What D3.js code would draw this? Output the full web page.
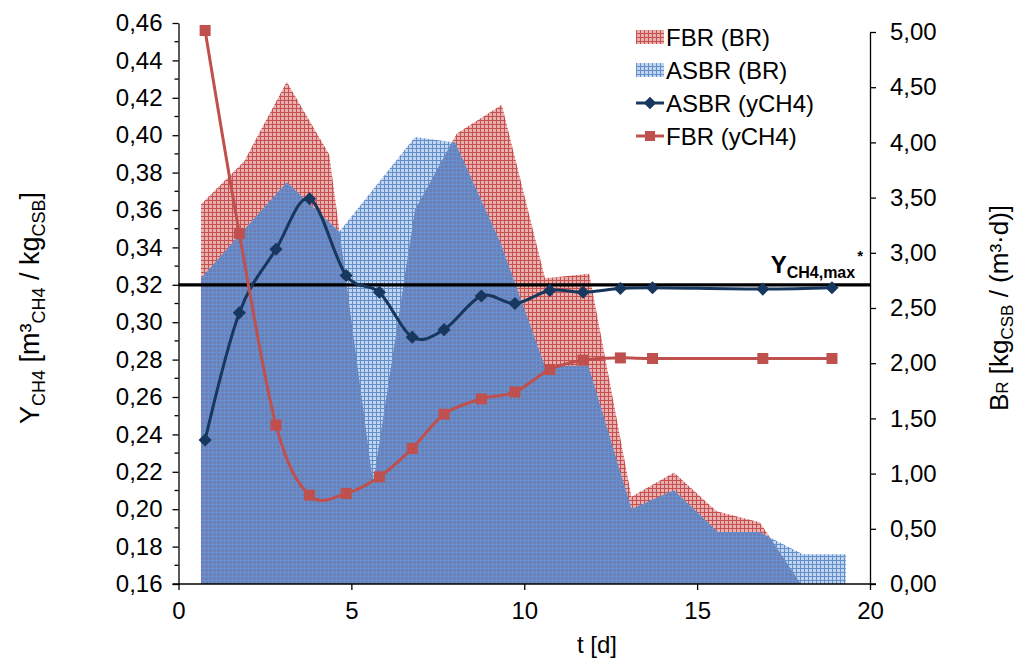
<!DOCTYPE html>
<html lang="de">
<head>
<meta charset="UTF-8" />
<title>Y_CH4 und B_R über t</title>
<script src="https://d3js.org/d3.v7.min.js"></script>
<style>
  body { margin: 0; background: #fff; font-family: "Liberation Sans", Arial, sans-serif; }
  svg { display: block; }
  .axis text { font-size: 24px; fill: #000; font-family: "Liberation Sans", Arial, sans-serif; }
  .axis path, .axis line { stroke: #000; stroke-width: 1.3px; }
</style>
</head>
<body>
<svg id="chart" width="1019" height="659"></svg>
<script>
  // raumbelastung B_R (area series, right axis)
  const tFbrBR = [0.65, 1.9, 3.13, 4.36, 5.63, 6.84, 8.05, 9.35, 10.6, 11.88, 13.1, 14.33, 15.56, 16.81, 18.0];
  const fbrBR = [3.44, 3.83, 4.55, 3.89, 0.91, 3.39, 4.08, 4.34, 2.77, 2.81, 0.79, 1.01, 0.66, 0.56, 0.0];
  const tAsbrBR = [0.65, 3.13, 4.65, 6.84, 8.0, 9.3, 10.6, 11.85, 13.1, 14.33, 15.6, 16.8, 18.06, 19.3];
  const asbrBR = [2.77, 3.64, 3.19, 4.05, 4.0, 3.1, 1.97, 1.98, 0.68, 0.85, 0.47, 0.47, 0.27, 0.27];

  // methanausbeute y_CH4 (line series, left axis)
  const tYield = [0.77, 1.76, 2.82, 3.79, 4.85, 5.81, 6.76, 7.68, 8.76, 9.73, 10.74, 11.7, 12.78, 13.71, 16.9, 18.9];
  const asbrY = [0.237, 0.305, 0.339, 0.366, 0.325, 0.316, 0.292, 0.296, 0.314, 0.310, 0.317, 0.316, 0.318, 0.3184, 0.3177, 0.3184];
  const fbrY = [0.456, 0.3475, 0.245, 0.2075, 0.2084, 0.2173, 0.2325, 0.2508, 0.259, 0.2627, 0.2747, 0.2797, 0.2809, 0.2806, 0.2806, 0.2806];

  const yMax = 0.32;
  const xTicks = [0, 5, 10, 15, 20];
  const yLeftTicks = d3.range(0.16, 0.4601, 0.02);
  const yLeftMinor = d3.range(0.17, 0.46, 0.02);
  const yRightTicks = d3.range(0, 5.001, 0.5);
  const legendItems = ["FBR (BR)", "ASBR (BR)", "ASBR (yCH4)", "FBR (yCH4)"];

  const red = "#c0504d", navy = "#17375e";

  const svg = d3.select("#chart");
  const x = d3.scaleLinear().domain([0, 20]).range([178.5, 870]);
  const yL = d3.scaleLinear().domain([0.16, 0.46]).range([584, 23]);
  const yR = d3.scaleLinear().domain([0, 5]).range([584, 32]);

  const comma = f => v => d3.format(f)(v).replace(".", ",");

  // fill patterns
  const defs = svg.append("defs");
  function grid(id, bg, line) {
    const p = defs.append("pattern").attr("id", id).attr("patternUnits", "userSpaceOnUse")
      .attr("width", 4).attr("height", 4);
    p.append("rect").attr("width", 4).attr("height", 4).attr("fill", bg);
    p.append("rect").attr("width", 4).attr("height", 1).attr("fill", line);
    p.append("rect").attr("width", 1).attr("height", 4).attr("fill", line);
  }
  grid("pRed", "#e9b0af", "#c4514f");
  grid("pBlue", "#c3d5ee", "#6290cc");
  grid("pMix", "#6e7fb3", "#6592d4");

  const fbrData = tFbrBR.map((t, i) => ({ t, v: fbrBR[i] }));
  const asbrData = tAsbrBR.map((t, i) => ({ t, v: asbrBR[i] }));
  const area = d3.area().x(d => x(d.t)).y0(yR(0)).y1(d => yR(d.v));

  svg.append("path").attr("d", area(fbrData)).attr("fill", "url(#pRed)");
  defs.append("clipPath").attr("id", "clipRed").append("path").attr("d", area(fbrData));
  svg.append("path").attr("d", area(asbrData)).attr("fill", "url(#pBlue)");
  svg.append("path").attr("d", area(asbrData)).attr("fill", "url(#pMix)").attr("clip-path", "url(#clipRed)");

  // axes
  svg.append("g").attr("class", "axis").attr("transform", `translate(0,${yL(0.16)})`)
    .call(d3.axisBottom(x).tickValues(xTicks).tickSize(6).tickPadding(12).tickSizeOuter(0))
    .call(g => g.select(".domain").attr("d", `M${x(0) - 6},0H${x(20) + 6}`));

  svg.append("g").attr("class", "axis").attr("transform", `translate(${x(0)},0)`)
    .call(d3.axisLeft(yL).tickValues(yLeftTicks).tickFormat(comma(".2f")).tickSize(6).tickPadding(10).tickSizeOuter(0))
    .call(g => g.selectAll(".minor").data(yLeftMinor).join("line").attr("class", "minor")
      .attr("x1", -4).attr("x2", 0).attr("y1", d => yL(d)).attr("y2", d => yL(d)).attr("stroke", "#000").attr("stroke-width", 1.3));

  svg.append("g").attr("class", "axis").attr("transform", `translate(${x(20)},0)`)
    .call(d3.axisRight(yR).tickValues(yRightTicks).tickFormat(comma(".2f")).tickSize(6).tickPadding(14).tickSizeOuter(0));

  // Y_CH4,max reference line
  svg.append("line").attr("x1", x(0)).attr("x2", x(20)).attr("y1", yL(yMax)).attr("y2", yL(yMax))
    .attr("stroke", "#000").attr("stroke-width", 3.2);
  const lab = svg.append("text").attr("x", 863).attr("y", yL(yMax) - 12).attr("text-anchor", "end")
    .attr("font-weight", "bold").attr("font-size", 24);
  lab.append("tspan").text("Y");
  lab.append("tspan").attr("font-size", 16).attr("dy", 5).text("CH4,max");
  lab.append("tspan").attr("font-size", 15).attr("dy", -17).attr("dx", 2).text("*");

  // lines
  const line = d3.line().curve(d3.curveCardinal.tension(0));
  const asbrPts = tYield.map((t, i) => [x(t), yL(asbrY[i])]);
  const fbrPts = tYield.map((t, i) => [x(t), yL(fbrY[i])]);

  svg.append("path").attr("d", line(asbrPts)).attr("fill", "none").attr("stroke", navy).attr("stroke-width", 3);
  svg.selectAll(".dia").data(asbrPts).join("path").attr("class", "dia")
    .attr("d", d3.symbol(d3.symbolDiamond2, 110)).attr("transform", d => `translate(${d})`).attr("fill", navy);

  svg.append("path").attr("d", line(fbrPts)).attr("fill", "none").attr("stroke", red).attr("stroke-width", 3);
  svg.selectAll(".sq").data(fbrPts).join("rect").attr("class", "sq")
    .attr("x", d => d[0] - 5.5).attr("y", d => d[1] - 5.5).attr("width", 11).attr("height", 11).attr("fill", red);

  // legend
  const lg = svg.append("g").attr("transform", "translate(636,37)");
  legendItems.forEach((name, i) => {
    const g = lg.append("g").attr("transform", `translate(0,${i * 33})`);
    if (i < 2) {
      g.append("rect").attr("x", 0).attr("y", -7).attr("width", 28).attr("height", 14)
        .attr("fill", i === 0 ? "url(#pRed)" : "url(#pBlue)");
    } else {
      const c = i === 2 ? navy : red;
      g.append("line").attr("x1", 0).attr("x2", 28).attr("stroke", c).attr("stroke-width", 3);
      if (i === 2) g.append("path").attr("d", d3.symbol(d3.symbolDiamond2, 100)).attr("transform", "translate(14,0)").attr("fill", c);
      else g.append("rect").attr("x", 9).attr("y", -5).attr("width", 10).attr("height", 10).attr("fill", c);
    }
    g.append("text").attr("x", 30).attr("y", 8.5).attr("font-size", 24).text(name);
  });

  // axis titles
  svg.append("text").attr("x", 597).attr("y", 653).attr("text-anchor", "middle").attr("font-size", 24).text("t [d]");

  const tl = svg.append("text").attr("transform", "translate(39,308) rotate(-90)").attr("text-anchor", "middle").attr("font-size", 27);
  tl.append("tspan").text("Y");
  tl.append("tspan").attr("font-size", 18).attr("dy", 6).text("CH4");
  tl.append("tspan").attr("dy", -6).text(" [m³");
  tl.append("tspan").attr("font-size", 18).attr("dy", 6).text("CH4");
  tl.append("tspan").attr("dy", -6).text(" / kg");
  tl.append("tspan").attr("font-size", 18).attr("dy", 6).text("CSB");
  tl.append("tspan").attr("dy", -6).text("]");

  const tr = svg.append("text").attr("transform", "translate(1008,308) rotate(-90)").attr("text-anchor", "middle").attr("font-size", 26);
  tr.append("tspan").text("B");
  tr.append("tspan").attr("font-size", 17).text("R");
  tr.append("tspan").text(" [kg");
  tr.append("tspan").attr("font-size", 17).attr("dy", 5).text("CSB");
  tr.append("tspan").attr("dy", -5).text(" / (m³·d)]");
</script>
</body>
</html>
